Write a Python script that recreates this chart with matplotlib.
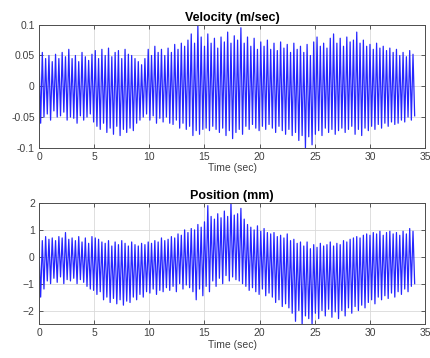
"""Velocity and position traces, MATLAB-style two-panel figure."""
import matplotlib

matplotlib.use("Agg")
import matplotlib.pyplot as plt
import numpy as np

# --- data: per-cycle peaks (about 0.3 s per cycle) ---
vel_hi = [
    0.050, 0.055, 0.045, 0.050, 0.040, 0.052, 0.045, 0.055, 0.048, 0.060,
    0.045, 0.050, 0.040, 0.055, 0.048, 0.042, 0.052, 0.058, 0.045, 0.060,
    0.050, 0.062, 0.048, 0.055, 0.058, 0.045, 0.060, 0.052, 0.050, 0.045,
    0.040, 0.035, 0.045, 0.060, 0.050, 0.065, 0.055, 0.060, 0.050, 0.062,
    0.055, 0.068, 0.060, 0.070, 0.065, 0.075, 0.085, 0.070, 0.098, 0.080,
    0.065, 0.085, 0.070, 0.078, 0.062, 0.080, 0.072, 0.088, 0.070, 0.082,
    0.075, 0.095, 0.070, 0.080, 0.065, 0.078, 0.060, 0.072, 0.065, 0.075,
    0.060, 0.070, 0.058, 0.072, 0.062, 0.068, 0.055, 0.070, 0.060, 0.065,
    0.055, 0.068, 0.050, 0.072, 0.080, 0.065, 0.070, 0.062, 0.078, 0.085,
    0.070, 0.078, 0.065, 0.080, 0.072, 0.075, 0.088, 0.070, 0.075, 0.065,
    0.068, 0.060, 0.070, 0.062, 0.065, 0.058, 0.062, 0.055, 0.060, 0.050,
    0.055, 0.048, 0.058, 0.052,
]
vel_lo = [
    -0.060, -0.050, -0.045, -0.055, -0.040, -0.050, -0.048, -0.042, -0.055, -0.050,
    -0.052, -0.060, -0.048, -0.055, -0.050, -0.045, -0.058, -0.065, -0.070, -0.060,
    -0.075, -0.068, -0.078, -0.065, -0.080, -0.070, -0.075, -0.068, -0.072, -0.060,
    -0.055, -0.050, -0.045, -0.055, -0.048, -0.060, -0.052, -0.058, -0.050, -0.060,
    -0.062, -0.055, -0.068, -0.060, -0.070, -0.065, -0.080, -0.072, -0.078, -0.070,
    -0.068, -0.072, -0.065, -0.070, -0.075, -0.068, -0.080, -0.072, -0.085, -0.075,
    -0.070, -0.078, -0.065, -0.070, -0.062, -0.068, -0.072, -0.065, -0.070, -0.062,
    -0.068, -0.075, -0.065, -0.072, -0.078, -0.070, -0.080, -0.075, -0.088, -0.080,
    -0.100, -0.082, -0.095, -0.078, -0.072, -0.080, -0.068, -0.075, -0.070, -0.078,
    -0.072, -0.068, -0.075, -0.070, -0.065, -0.078, -0.070, -0.080, -0.068, -0.072,
    -0.065, -0.070, -0.062, -0.068, -0.060, -0.065, -0.058, -0.062, -0.060, -0.055,
    -0.058, -0.050, -0.055, -0.048,
]
pos_hi = [
    0.30, 0.60, 0.75, 0.65, 0.70, 0.60, 0.75, 0.70, 0.90, 0.65,
    0.70, 0.60, 0.75, 0.55, 0.70, 0.50, 0.75, 0.70, 0.65, 0.55,
    0.50, 0.60, 0.40, 0.55, 0.45, 0.60, 0.50, 0.40, 0.55, 0.45,
    0.40, 0.50, 0.45, 0.55, 0.50, 0.60, 0.55, 0.70, 0.60, 0.65,
    0.75, 0.70, 0.85, 0.80, 1.00, 0.90, 1.05, 1.00, 1.20, 1.10,
    1.30, 1.90, 1.50, 1.40, 1.60, 1.45, 1.70, 1.50, 2.00, 1.55,
    1.60, 1.80, 1.40, 1.20, 1.10, 1.00, 1.15, 0.95, 1.05, 0.90,
    0.85, 0.90, 0.75, 0.80, 0.70, 0.85, 0.60, 0.65, 0.50, 0.55,
    0.40, 0.55, 0.30, 0.45, 0.35, 0.50, 0.40, 0.45, 0.55, 0.40,
    0.50, 0.45, 0.60, 0.55, 0.65, 0.70, 0.75, 0.70, 0.80, 0.85,
    0.80, 0.90, 0.85, 0.95, 0.80, 0.90, 0.95, 0.85, 0.90, 0.80,
    0.95, 0.85, 1.05, 0.95,
]
pos_lo = [
    -1.50, -1.20, -0.90, -1.00, -0.80, -0.95, -0.75, -1.00, -0.85, -0.90,
    -0.80, -1.00, -0.85, -0.95, -1.10, -1.20, -1.25, -1.40, -1.30, -1.60,
    -1.50, -1.70, -1.55, -1.75, -1.60, -1.80, -1.65, -1.70, -1.50, -1.60,
    -1.40, -1.50, -1.30, -1.35, -1.20, -1.40, -1.25, -1.30, -1.15, -1.25,
    -1.10, -1.30, -1.00, -1.20, -1.05, -1.15, -1.30, -1.60, -1.20, -1.45,
    -1.10, -1.30, -0.90, -1.10, -0.80, -1.00, -0.70, -0.90, -0.75, -0.85,
    -0.90, -1.00, -1.10, -1.25, -1.15, -1.30, -1.40, -1.20, -1.45, -1.35,
    -1.50, -1.70, -1.60, -1.85, -1.75, -1.90, -2.10, -2.40, -2.00, -2.50,
    -2.20, -2.30, -2.50, -2.10, -2.30, -2.00, -2.20, -1.95, -2.25, -2.05,
    -2.30, -2.00, -2.20, -1.90, -2.10, -1.85, -2.00, -1.80, -1.90, -1.70,
    -1.60, -1.75, -1.50, -1.60, -1.45, -1.55, -1.35, -1.50, -1.30, -1.40,
    -1.20, -1.30, -1.10, -1.00,
]
T_END = 34.2  # last sample time (sec)
# ---------------------------------------------------------------------------


def zigzag(hi, lo, t_end):
    n = min(len(hi), len(lo))
    period = t_end / n
    t = np.empty(2 * n)
    y = np.empty(2 * n)
    t[0::2] = np.arange(n) * period
    t[1::2] = (np.arange(n) + 0.5) * period
    y[0::2] = hi[:n]
    y[1::2] = lo[:n]
    return t, y


def style_axes(ax, title, ylim, yticks):
    ax.set_xlim(0, 35)
    ax.set_ylim(*ylim)
    ax.set_xticks(range(0, 36, 5))
    ax.set_yticks(yticks)
    ax.grid(True, color="0.85", linewidth=0.6)
    ax.set_axisbelow(True)
    ax.tick_params(direction="in", length=3, width=0.6, labelsize=7.5,
                   colors="0.25", top=True, right=True, pad=3)
    for s in ax.spines.values():
        s.set_color("0.3")
        s.set_linewidth(0.7)
    ax.set_title(title, fontsize=9, fontweight="bold", pad=3)
    ax.set_xlabel("Time (sec)", fontsize=7.5, color="0.25", labelpad=1)


plt.rcParams["font.family"] = ["Liberation Sans", "DejaVu Sans"]
fig = plt.figure(figsize=(4.3, 3.58), dpi=100)
ax1 = fig.add_axes([0.0907, 0.587, 0.898, 0.344])
ax2 = fig.add_axes([0.0907, 0.095, 0.898, 0.338])

t, v = zigzag(vel_hi, vel_lo, T_END)
ax1.plot(t, v, color=(0.15, 0.15, 1.0), linewidth=0.9)
style_axes(ax1, "Velocity (m/sec)", (-0.1, 0.1), [-0.1, -0.05, 0, 0.05, 0.1])
ax1.set_yticklabels(["-0.1", "-0.05", "0", "0.05", "0.1"])

t, p = zigzag(pos_hi, pos_lo, T_END)
ax2.plot(t, p, color=(0.15, 0.15, 1.0), linewidth=0.9)
style_axes(ax2, "Position (mm)", (-2.5, 2), [-2, -1, 0, 1, 2])

fig.savefig("out.png", dpi=100)
